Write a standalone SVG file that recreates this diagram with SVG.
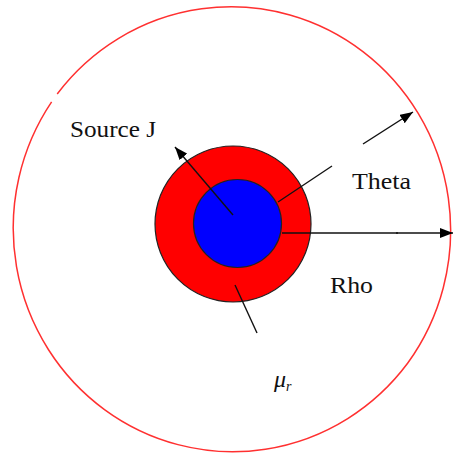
<svg xmlns="http://www.w3.org/2000/svg" width="453" height="454" viewBox="0 0 453 454">
  <style>
    .lbl { font-family: "Liberation Serif", "Times New Roman", serif; font-size: 24px; fill: #111; }
    .ln { stroke: #111; stroke-width: 1.4; fill: none; }
  </style>
  <defs>
    <marker id="ah" markerUnits="userSpaceOnUse" markerWidth="14" markerHeight="10" refX="13" refY="5" orient="auto">
      <path d="M0,0 L13,5 L0,10 Z" fill="#000"/>
    </marker>
  </defs>
  <rect width="453" height="454" fill="#fff"/>
  <g id="outer-boundary">
    <path d="M 57.21 94 A 219.5 223.5 0 0 1 407.79 363 A 219.5 223.5 0 0 1 51.61 101.91" fill="none" stroke="#ff3030" stroke-width="1.5"/>
  </g>
  <g id="mu-region">
    <circle cx="233" cy="224" r="78" fill="#ff0000" stroke="#222" stroke-width="1.2"/>
  </g>
  <g id="source-core">
    <circle cx="237.5" cy="223.5" r="44" fill="#0000ff" stroke="#222" stroke-width="1.2"/>
  </g>
  <g id="connectors">
    <line class="ln" x1="233" y1="215" x2="175" y2="147" marker-end="url(#ah)"/>
    <line class="ln" x1="278" y1="202" x2="332" y2="166"/>
    <line class="ln" x1="363" y1="144" x2="413" y2="112" marker-end="url(#ah)"/>
    <line class="ln" x1="282" y1="233" x2="398" y2="233" stroke-width="2"/>
    <line class="ln" x1="396" y1="233" x2="453" y2="233" marker-end="url(#ah)"/>
    <line class="ln" x1="235" y1="285" x2="257" y2="333"/>
  </g>
  <g id="labels">
    <text class="lbl" x="70" y="137" textLength="86" lengthAdjust="spacingAndGlyphs">Source J</text>
    <text class="lbl" x="352" y="189" textLength="59" lengthAdjust="spacingAndGlyphs">Theta</text>
    <text class="lbl" x="330" y="293" textLength="43" lengthAdjust="spacingAndGlyphs">Rho</text>
    <text class="lbl" x="274" y="387" font-style="italic" font-size="22">μ<tspan font-size="14" dy="4">r</tspan></text>
  </g>
</svg>
